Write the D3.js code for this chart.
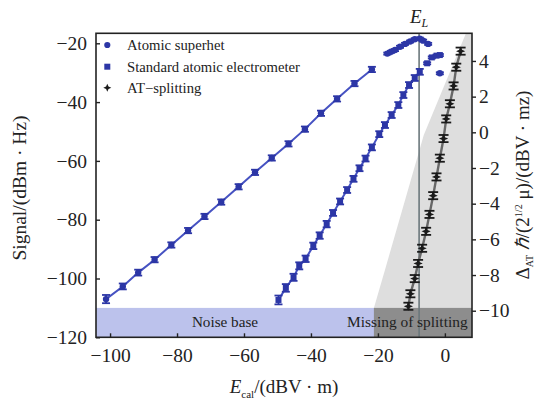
<!DOCTYPE html>
<html>
<head>
<meta charset="utf-8">
<script src="https://cdn.jsdelivr.net/npm/d3@7"></script>
<style>
  body { margin: 0; background: #fff; }
  text { font-family: "Liberation Serif", "Times New Roman", serif; fill: #222; }
</style>
</head>
<body>
<svg id="chart" width="546" height="403"></svg>
<script>
// ---- data -------------------------------------------------------------
// Atomic superhet: linear region (fitted line) and saturation near E_L
const superhetE = [-101.2, -96.2, -91.6, -86.7, -81.7, -76.7, -71.8, -66.8, -61.6, -56.7, -51.7, -46.7, -41.8, -37.0, -32.2, -27.0, -21.8];
const superhetS = [-107.0, -102.7, -98.0, -93.6, -88.6, -83.7, -78.9, -74.0, -68.8, -63.9, -59.0, -54.2, -49.2, -43.8, -38.9, -33.7, -28.9];
const superhetErr = [1.4, 1.0, 1.0, 0.9, 0.9, 0.9, 0.9, 0.9, 0.9, 0.9, 0.9, 0.9, 0.9, 0.9, 0.9, 0.9, 0.9];
const superhetSatE = [-17.2, -16.1, -14.9, -13.4, -11.9, -10.4, -9.0, -7.5, -6.5, -5.0, -1.5];
const superhetSatS = [-23.5, -22.9, -22.3, -21.2, -20.2, -19.4, -18.6, -18.4, -19.1, -20.2, -30.2];

// Standard atomic electrometer
const standardE = [-49.7, -47.5, -45.2, -43.5, -41.6, -39.3, -37.4, -35.3, -33.4, -31.3, -29.2, -27.3, -25.5, -23.7, -21.8, -19.6, -17.9, -15.9, -13.9, -12.4, -10.7, -9.0, -7.5];
const standardS = [-107.3, -103.2, -99.6, -95.7, -93.3, -88.9, -85.4, -81.5, -77.7, -73.8, -69.9, -66.1, -62.5, -59.2, -55.4, -50.9, -47.8, -44.4, -41.0, -37.6, -34.2, -31.8, -29.7];
const standardErr = [1.5, 1.3, 1.2, 1.2, 1.1, 1.1, 1.1, 1.1, 1.0, 1.0, 1.0, 1.0, 1.0, 1.0, 1.0, 1.0, 1.0, 1.0, 1.0, 1.0, 1.0, 1.0, 1.0];
const standardSatE = [-5.3, -3.9, -2.5, -1.5];
const standardSatS = [-26.8, -24.8, -24.2, -24.0];

// AT splitting (right axis)
const atE = [4.7, 3.4, 2.6, 1.5, 0.4, -0.4, -1.5, -2.5, -3.5, -4.6, -5.6, -6.8, -8.0, -9.0, -10.3, -10.9];
const atSplit = [4.55, 3.65, 2.6, 1.6, 0.75, -0.35, -1.45, -2.5, -3.55, -4.6, -5.55, -6.5, -7.35, -8.2, -9.05, -9.75];
const atErr = 0.2;

// reference levels
const noiseFloor = -110;
const fieldLimit = -7.7; // E_L
// region where the AT splitting can no longer be resolved (E, signal)
const splitRegion = [[-21.2, -110], [-17.9, -97.1], [-6.3, -51.2], [6.3, -16.6]];

// ticks
const xTicks = [-100, -80, -60, -40, -20, 0];
const yTicks = [-120, -100, -80, -60, -40, -20];
const yRightTicks = [-10, -8, -6, -4, -2, 0, 2, 4];

const legendItems = ["Atomic superhet", "Standard atomic electrometer", "AT\u2212splitting"];

// ---- layout -----------------------------------------------------------
const L = 96, R = 472, T = 33.3, B = 337.3;
const xDom = [-104.2, 8.1], yDom = [-120, -16.6], yRDom = [-11.49, 5.55];

const x = d3.scaleLinear().domain(xDom).range([L, R]);
const y = d3.scaleLinear().domain(yDom).range([B, T]);
const yR = d3.scaleLinear().domain(yRDom).range([B, T]);

const svg = d3.select("#chart");
const blue = "#2c36a6", blueLine = "#4652c2";
const minus = v => (v < 0 ? "\u2212" + Math.abs(v) : String(v));

// four-pointed star used for the AT-splitting markers
const star4 = s => `M0,${-s}L${s * 0.3},${-s * 0.3}L${s},0L${s * 0.3},${s * 0.3}L0,${s}L${-s * 0.3},${s * 0.3}L${-s},0L${-s * 0.3},${-s * 0.3}Z`;

// ---- background regions -----------------------------------------------
svg.append("rect")
  .attr("x", x(xDom[0])).attr("y", y(noiseFloor))
  .attr("width", x(xDom[1]) - x(xDom[0])).attr("height", y(yDom[0]) - y(noiseFloor))
  .attr("fill", "#bcc2ec");

const regionPts = splitRegion.concat([[xDom[1], yDom[1]], [xDom[1], noiseFloor]]);
svg.append("path")
  .attr("d", d3.line().x(d => x(d[0])).y(d => y(d[1]))(regionPts) + "Z")
  .attr("fill", "#dedede");

svg.append("rect")
  .attr("x", x(splitRegion[0][0])).attr("y", y(noiseFloor))
  .attr("width", x(xDom[1]) - x(splitRegion[0][0])).attr("height", y(yDom[0]) - y(noiseFloor))
  .attr("fill", "#8d8d8d");

// E_L marker line
svg.append("line")
  .attr("x1", x(fieldLimit)).attr("x2", x(fieldLimit))
  .attr("y1", y(yDom[1])).attr("y2", y(yDom[0]))
  .attr("stroke", "#6b787c").attr("stroke-width", 1.6);

// ---- series -----------------------------------------------------------
const zip = (a, b, e) => a.map((v, i) => ({ e: v, s: b[i], err: Array.isArray(e) ? e[i] : e }));

const superhet = zip(superhetE, superhetS, superhetErr);
const superhetSat = zip(superhetSatE, superhetSatS, 0.35);
const standard = zip(standardE, standardS, standardErr);
const standardSat = zip(standardSatE, standardSatS, 0.35);
const at = zip(atE, atSplit, atErr);

svg.append("path")
  .attr("d", d3.line().x(d => x(d.e)).y(d => y(d.s))(superhet))
  .attr("fill", "none").attr("stroke", blueLine).attr("stroke-width", 2);
svg.append("path")
  .attr("d", d3.line().x(d => x(d.e)).y(d => y(d.s))(standard))
  .attr("fill", "none").attr("stroke", blueLine).attr("stroke-width", 2);
svg.append("path")
  .attr("d", d3.line().x(d => x(d.e)).y(d => yR(d.s))(at))
  .attr("fill", "none").attr("stroke", "#676767").attr("stroke-width", 2.4);

function errorBars(data, ys, color, cap) {
  const g = svg.append("g").attr("stroke", color).attr("stroke-width", 1.8);
  data.forEach(d => {
    const cx = x(d.e), y1 = ys(d.s - d.err), y2 = ys(d.s + d.err);
    g.append("line").attr("x1", cx).attr("x2", cx).attr("y1", y1).attr("y2", y2);
    g.append("line").attr("x1", cx - cap).attr("x2", cx + cap).attr("y1", y1).attr("y2", y1);
    g.append("line").attr("x1", cx - cap).attr("x2", cx + cap).attr("y1", y2).attr("y2", y2);
  });
}

errorBars(superhet.concat(superhetSat), y, blue, 4);
svg.append("g").selectAll("circle").data(superhet.concat(superhetSat)).join("circle")
  .attr("cx", d => x(d.e)).attr("cy", d => y(d.s)).attr("r", 3.2).attr("fill", blue);

errorBars(standard.concat(standardSat), y, blue, 4);
svg.append("g").selectAll("rect").data(standard.concat(standardSat)).join("rect")
  .attr("x", d => x(d.e) - 3).attr("y", d => y(d.s) - 3).attr("width", 6).attr("height", 6).attr("fill", blue);

errorBars(at, yR, "#1a1a1a", 5);
svg.append("g").selectAll("path").data(at).join("path")
  .attr("transform", d => `translate(${x(d.e)},${yR(d.s)})`)
  .attr("d", star4(4.6))
  .attr("fill", "#1a1a1a");

// ---- frame and axes ---------------------------------------------------
svg.append("rect").attr("x", L).attr("y", T).attr("width", R - L).attr("height", B - T)
  .attr("fill", "none").attr("stroke", "#222").attr("stroke-width", 1.6);

const axL = svg.append("g").attr("transform", `translate(${L},0)`)
  .call(d3.axisLeft(y).tickValues(yTicks).tickSize(-4).tickPadding(9).tickFormat(minus));
const axB = svg.append("g").attr("transform", `translate(0,${B})`)
  .call(d3.axisBottom(x).tickValues(xTicks).tickSize(-4).tickPadding(11).tickFormat(minus));
const axR = svg.append("g").attr("transform", `translate(${R},0)`)
  .call(d3.axisRight(yR).tickValues(yRightTicks).tickSize(4).tickPadding(3).tickFormat(minus));

[axL, axB, axR].forEach(a => {
  a.select(".domain").remove();
  a.selectAll(".tick line").attr("stroke", "#222").attr("stroke-width", 1.4);
  a.selectAll(".tick text").attr("font-family", "Liberation Serif, serif").attr("font-size", 19.5).attr("fill", "#222");
});

// ---- region labels ----------------------------------------------------
svg.append("text").attr("x", 225).attr("y", 327).attr("text-anchor", "middle")
  .attr("font-size", 15.2).text("Noise base");
svg.append("text").attr("x", 347).attr("y", 327)
  .attr("font-size", 15.4).text("Missing of splitting");

// E_L label
const el = svg.append("text").attr("x", x(fieldLimit)).attr("y", 23).attr("text-anchor", "middle").attr("font-size", 19);
el.append("tspan").attr("font-style", "italic").text("E");
el.append("tspan").attr("font-style", "italic").attr("font-size", 12).attr("dy", 4).text("L");

// ---- legend -----------------------------------------------------------
const lg = svg.append("g");
const legY = [45, 66.7, 87.7];
lg.append("circle").attr("cx", 107.3).attr("cy", legY[0]).attr("r", 3.1).attr("fill", blue);
lg.append("rect").attr("x", 104.3).attr("y", legY[1] - 3).attr("width", 6).attr("height", 6).attr("fill", blue);
lg.append("path").attr("transform", `translate(107.3,${legY[2]})`).attr("d", star4(4)).attr("fill", "#1a1a1a");
legendItems.forEach((t, i) => {
  lg.append("text").attr("x", 127).attr("y", legY[i] + 5).attr("font-size", 14.7).text(t);
});

// ---- axis titles ------------------------------------------------------
const xl = svg.append("text").attr("x", 284).attr("y", 393).attr("text-anchor", "middle").attr("font-size", 19);
xl.append("tspan").attr("font-style", "italic").text("E");
xl.append("tspan").attr("font-size", 11).attr("dy", 5).text("cal");
xl.append("tspan").attr("dy", -5).text("/(dBV \u00b7 m)");

svg.append("text").attr("transform", "translate(26,188) rotate(-90)").attr("text-anchor", "middle")
  .attr("font-size", 19.5).text("Signal/(dBm \u00b7 Hz)");

const yl = svg.append("text").attr("transform", "translate(529,185) rotate(-90)").attr("text-anchor", "middle").attr("font-size", 19);
yl.append("tspan").text("\u0394");
yl.append("tspan").attr("font-size", 10).attr("dy", 4).text("AT");
yl.append("tspan").attr("dy", -4).attr("font-style", "italic").text(" \u210f");
yl.append("tspan").text("/(2");
yl.append("tspan").attr("font-size", 10).attr("dy", -7).text("1/2");
yl.append("tspan").attr("dy", 7).text(" \u03bc)/(dBV \u00b7 mz)");
</script>
</body>
</html>
